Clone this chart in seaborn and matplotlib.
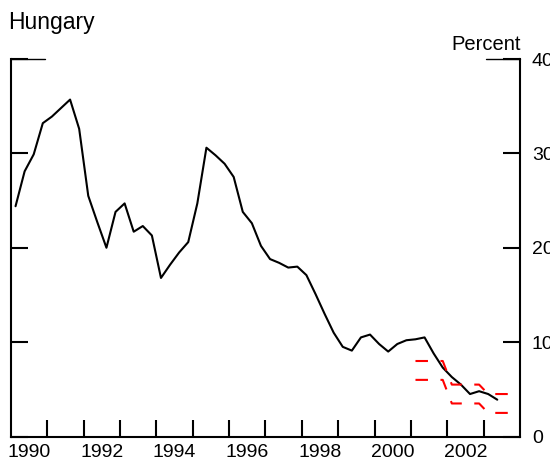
import pandas as pd
import matplotlib
matplotlib.use("Agg")
import matplotlib.pyplot as plt
import seaborn as sns

# quarterly consumer price inflation, percent, starting 1990Q1
cpi_start = "1990Q1"
cpi = [24.4, 28.1, 29.9, 33.2,
       33.9, 34.8, 35.7, 32.6,
       25.5, 22.7, 20.0, 23.8,
       24.7, 21.7, 22.3, 21.3,
       16.8, 18.2, 19.5, 20.6,
       24.7, 30.6, 29.8, 28.9,
       27.5, 23.8, 22.6, 20.2,
       18.8, 18.4, 17.9, 18.0,
       17.1, 15.1, 13.0, 11.0,
       9.5, 9.1, 10.5, 10.8,
       9.8, 9.0, 9.8, 10.2,
       10.3, 10.5, 8.8, 7.3,
       6.3, 5.5, 4.5, 4.8,
       4.5, 3.9]

# inflation target band, starting 2001Q1
band_start = "2001Q1"
band_upper = [8, 8, 8, 8, 5.5, 5.5, 5.5, 5.5, 4.5, 4.5, 4.5, 4.5, 4.5]
band_lower = [6, 6, 6, 6, 3.5, 3.5, 3.5, 3.5, 2.5, 2.5, 2.5, 2.5, 2.5]

year_ticks = list(range(1991, 2004))
year_labels = [str(y) for y in range(1990, 2004, 2)]
pct_ticks = [0, 10, 20, 30, 40]


def quarter_pos(start, n):
    p = pd.period_range(start, periods=n, freq="Q")
    return p.year + (p.quarter - 0.5) / 4


sns.set_style("ticks", {"axes.edgecolor": "black", "text.color": "black",
                        "xtick.color": "black", "ytick.color": "black"})
plt.rcParams["font.family"] = ["Liberation Sans", "DejaVu Sans"]

fig = plt.figure(figsize=(5.5, 4.68), dpi=100)
ax = fig.add_axes([11 / 550, 1 - 436.5 / 468, 509 / 550, (436.5 - 59) / 468])

sns.lineplot(x=quarter_pos(cpi_start, len(cpi)), y=cpi, ax=ax,
             color="black", lw=1.5, estimator=None)
xb = quarter_pos(band_start, len(band_upper))
for band in (band_upper, band_lower):
    sns.lineplot(x=xb, y=band, ax=ax, color="red", lw=1.5,
                 linestyle=(0, (6, 6)), estimator=None)

ax.set_xlim(1990, 2004)
ax.set_ylim(0, 40)

# year boundaries as ticks, labels centred on the years
ax.set_xticks(year_ticks)
ax.set_xticklabels([])
ax.set_xticks([int(y) + 0.5 for y in year_labels], minor=True)
ax.set_xticklabels(year_labels, minor=True)
ax.tick_params(axis="x", which="major", direction="in", length=12,
               width=1.5, bottom=True, top=False, color="black")
ax.tick_params(axis="x", which="minor", length=0, labelsize=14, pad=5.5,
               labelcolor="black")

ax.set_yticks(pct_ticks)
ax.tick_params(axis="y", which="major", direction="in", length=12,
               width=1.5, left=True, right=True, labelleft=False,
               labelright=True, labelsize=14, pad=8.5,
               color="black", labelcolor="black")

for side in ("left", "right", "bottom"):
    ax.spines[side].set_linewidth(1.5)
    ax.spines[side].set_color("black")
ax.spines["top"].set_visible(False)

# short bits of top frame at 40
ax.axhline(40, xmin=0, xmax=0.067, color="black", lw=1.0, clip_on=False)
ax.axhline(40, xmin=0.933, xmax=1, color="black", lw=1.0, clip_on=False)

ax.set_xlabel("")
ax.set_ylabel("")

fig.text(8 / 550, 1 - 29 / 468, "Hungary", ha="left", va="baseline",
         fontsize=16.5, color="black")
fig.text(521 / 550, 1 - 50 / 468, "Percent", ha="right", va="baseline",
         fontsize=14.5, color="black")

fig.savefig("out.png", dpi=100)
